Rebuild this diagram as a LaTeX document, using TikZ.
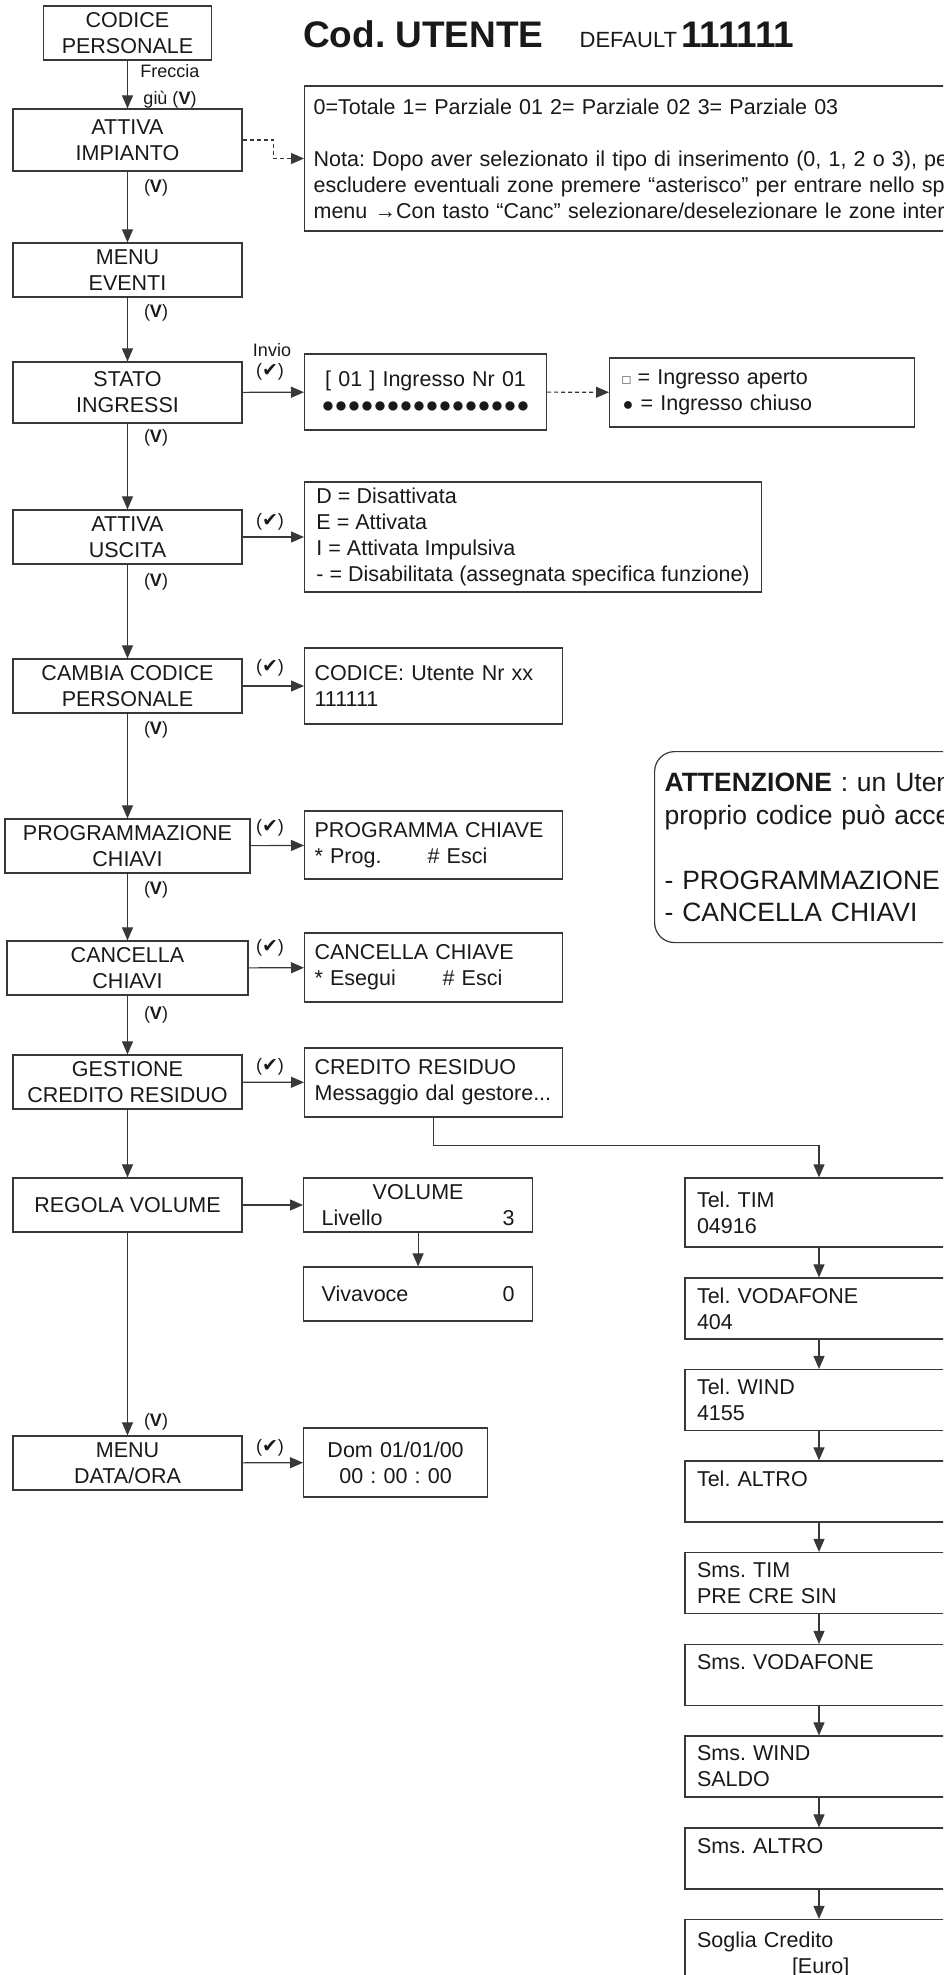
\documentclass[tikz,border=0pt]{standalone}
\usepackage{fontspec}
\setmainfont{Liberation Sans}
\newfontfamily\symfont{DejaVu Sans}
\usetikzlibrary{arrows.meta}
\frenchspacing

\definecolor{linegray}{HTML}{383838}
\newcommand{\giu}{(\textbf{V})}
\newcommand{\ok}{({\symfont\fontsize{19}{19}\selectfont ✔})}

\begin{document}
\begin{tikzpicture}[x=1pt,y=-1pt,
  every node/.style={inner sep=0pt, text=black!90, font=\fontsize{21.5}{26}\selectfont},
  box/.style={draw=linegray, line width=1.2pt},
  menu/.style={box, align=center, minimum width=229pt, minimum height=54pt},
  disp/.style={box, align=left, anchor=west, inner xsep=10pt, text width=#1},
  rcol/.style={box, align=left, inner xsep=12pt, text width=244pt, minimum height=61pt},
  lab/.style={font=\fontsize{18}{27}\selectfont},
  arr/.style={draw=linegray, line width=1.1pt, -{Triangle[length=13pt,width=11pt]}},
  dasharr/.style={arr, dash pattern=on 4pt off 3pt}]
  \useasboundingbox (0,0) rectangle (943,1975);
  \clip (0,0) rectangle (943,1975);

  \node (title) [anchor=base west] at (303,48) {\fontsize{37}{37}\selectfont\bfseries Cod. UTENTE\hspace{36pt}{\mdseries\fontsize{22}{22}\selectfont DEFAULT}\hspace{4pt}111111};

  \node (codpers) [menu, minimum width=168pt] at (127.5,33) {CODICE\\PERSONALE};
  \node (attimp) [menu, minimum height=62pt] at (127.5,140) {ATTIVA\\IMPIANTO};
  \node (eventi) [menu] at (127.5,270) {MENU\\EVENTI};
  \node (stato) [menu, minimum height=61pt] at (127.5,392.5) {STATO\\INGRESSI};
  \node (uscita) [menu] at (127.5,537) {ATTIVA\\USCITA};
  \node (cambia) [menu] at (127.5,686) {CAMBIA CODICE\\PERSONALE};
  \node (progr) [menu, minimum width=245pt] at (127.5,846) {PROGRAMMAZIONE\\CHIAVI};
  \node (cancl) [menu, minimum width=241pt] at (127.5,968) {CANCELLA\\CHIAVI};
  \node (credito) [menu] at (127.5,1082) {GESTIONE\\CREDITO RESIDUO};
  \node (volume) [menu] at (127.5,1205) {REGOLA VOLUME};
  \node (dataora) [menu] at (127.5,1463) {MENU\\DATA/ORA};

  \node (nota) [disp=800pt, inner xsep=9pt, minimum height=145pt] at (304,158.5) {0=Totale 1= Parziale 01 2= Parziale 02 3= Parziale 03\\[26pt]Nota: Dopo aver selezionato il tipo di inserimento (0, 1, 2 o 3), per\\escludere eventuali zone premere “asterisco” per entrare nello specifico\\menu →Con tasto “Canc” selezionare/deselezionare le zone interessate};
  \node (ingr) [disp=222pt, align=center, minimum height=76pt] at (304,392) {[ 01 ] Ingresso Nr 01\\●●●●●●●●●●●●●●●●};
  \node (legenda) [disp=279pt, inner xsep=13pt, minimum height=69pt] at (609,392.5) {{\fontsize{13}{13}\selectfont □} = Ingresso aperto\\{\fontsize{18}{18}\selectfont ●} = Ingresso chiuso};
  \node (stati) [box, align=left, anchor=west, minimum width=457pt, minimum height=110pt] at (304,537) {D = Disattivata\\E = Attivata\\I = Attivata Impulsiva\\- = Disabilitata (assegnata specifica funzione)};
  \node (codice) [disp=238pt, minimum height=76pt] at (304,686) {CODICE: Utente Nr xx\\111111};
  \node (chiave) [disp=238pt, minimum height=68pt] at (304,845) {PROGRAMMA CHIAVE\\\makebox[113pt][l]{* Prog.}\# Esci};
  \node (cancchiave) [disp=238pt, minimum height=69pt] at (304,967.5) {CANCELLA CHIAVE\\\makebox[128pt][l]{* Esegui}\# Esci};
  \node (residuo) [disp=238pt, minimum height=69pt] at (304,1082.5) {CREDITO RESIDUO\\Messaggio dal gestore...};
  \node (livello) [disp=193pt, inner xsep=18pt, align=center, minimum height=54pt] at (303,1205) {VOLUME\\\makebox[193pt]{Livello\hfill 3}};
  \node (vivavoce) [disp=193pt, inner xsep=18pt, minimum height=54pt] at (303,1294) {\makebox[193pt]{Vivavoce\hfill 0}};
  \node (data) [disp=164pt, align=center, minimum height=69pt] at (303,1462.5) {Dom 01/01/00\\00 : 00 : 00};

  \node (tim) [rcol, minimum height=69pt] at (819,1212.5) {Tel. TIM\\04916};
  \node (vodafone) [rcol] at (819,1308.5) {Tel. VODAFONE\\404};
  \node (wind) [rcol] at (819,1400) {Tel. WIND\\4155};
  \node (altro) [rcol] at (819,1491.5) {Tel. ALTRO\\\mbox{}};
  \node (smstim) [rcol] at (819,1583) {Sms. TIM\\PRE CRE SIN};
  \node (smsvod) [rcol] at (819,1675) {Sms. VODAFONE\\\mbox{}};
  \node (smswind) [rcol] at (819,1766.5) {Sms. WIND\\SALDO};
  \node (smsaltro) [rcol] at (819,1858.5) {Sms. ALTRO\\\mbox{}};
  \node (soglia) [rcol, minimum height=71pt] at (819,1955) {Soglia Credito\\\hspace*{95pt}[Euro]};

  \node (attenz) [box, rounded corners=20pt, anchor=north west, align=left, inner xsep=10pt, text width=420pt, minimum height=191pt, font=\fontsize{26.5}{32.5}\selectfont] at (654,751) {\textbf{ATTENZIONE} : un Utente con il\\proprio codice può accedere a:\\[32.5pt]- PROGRAMMAZIONE CHIAVI\\- CANCELLA CHIAVI};

  \draw [arr] (codpers) -- (attimp);
  \draw [arr] (attimp) -- (eventi);
  \draw [arr] (eventi) -- (stato);
  \draw [arr] (stato) -- (uscita);
  \draw [arr] (uscita) -- (cambia);
  \draw [arr] (cambia) -- (progr);
  \draw [arr] (progr) -- (cancl);
  \draw [arr] (cancl) -- (credito);
  \draw [arr] (credito) -- (volume);
  \draw [arr] (volume) -- (dataora);

  \draw [arr] (stato) -- (ingr);
  \draw [arr] (uscita) -- (stati);
  \draw [arr] (cambia) -- (codice);
  \draw [arr] (progr) -- (chiave);
  \draw [arr] (cancl) -- (cancchiave);
  \draw [arr] (credito) -- (residuo);
  \draw [arr] (volume) -- (livello);
  \draw [arr] (livello) -- (vivavoce);
  \draw [arr] (dataora) -- (data);
  \draw [dasharr] (ingr) -- (legenda);
  \draw [dasharr] (attimp.east) -- ++(31,0) |- (nota.west);

  \draw [arr] (residuo.south) -- ++(0,28) -| (tim.north);
  \draw [arr] (tim) -- (vodafone);
  \draw [arr] (vodafone) -- (wind);
  \draw [arr] (wind) -- (altro);
  \draw [arr] (altro) -- (smstim);
  \draw [arr] (smstim) -- (smsvod);
  \draw [arr] (smsvod) -- (smswind);
  \draw [arr] (smswind) -- (smsaltro);
  \draw [arr] (smsaltro) -- (soglia);

  \node (freccia) [lab, align=center] at (170,86) {Freccia\\giù \giu};
  \node (invio) [lab] at (272,350) {Invio};
  \foreach \y in {188,313,438,582,730,890,1015,1422}
    \node (v\y) [lab] at (156,\y) {\giu};
  \foreach \y in {372,522,668,828,948,1067,1448}
    \node (ok\y) [lab] at (270,\y) {\ok};
\end{tikzpicture}
\end{document}
